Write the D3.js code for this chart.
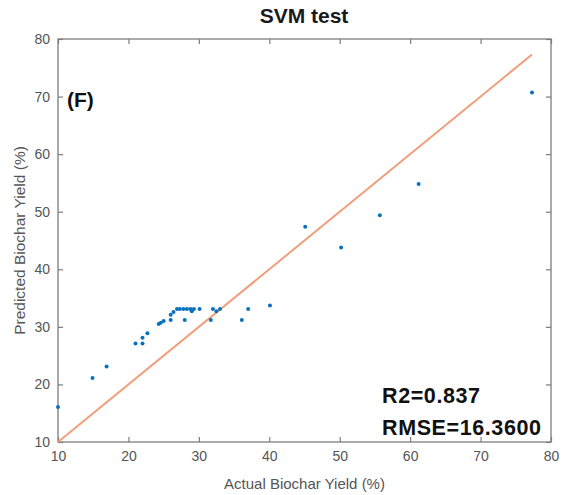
<!DOCTYPE html>
<html>
<head>
<meta charset="utf-8">
<script src="https://cdn.jsdelivr.net/npm/d3@7"></script>
<style>
  body { margin: 0; background: #fff; }
  svg { display: block; font-family: "Liberation Sans", Arial, sans-serif; }
</style>
</head>
<body>
<svg id="chart" width="564" height="495"></svg>
<script>
// actual vs predicted biochar yield (%)
let actual = [10, 14.9, 16.9, 21.0, 22.0, 22.0, 22.7, 24.3, 24.6, 25.0,
  26.0, 26.0, 26.4, 26.9, 27.3, 27.8, 28.0, 28.3, 28.8, 29.0,
  29.3, 30.1, 31.7, 32.0, 32.5, 33.0, 36.1, 37.0, 40.1, 45.1,
  50.2, 55.7, 61.2, 77.3];
let predicted = [16.1, 21.1, 23.1, 27.1, 27.1, 28.1, 28.9, 30.5, 30.7, 31.0,
  31.2, 32.1, 32.6, 33.1, 33.1, 33.1, 31.2, 33.1, 33.1, 32.7,
  33.1, 33.1, 31.2, 33.1, 32.7, 33.1, 31.2, 33.1, 33.7, 47.4,
  43.8, 49.4, 54.8, 70.7];
let ticks = [10, 20, 30, 40, 50, 60, 70, 80];

let leftMargin = 58,
  topMargin = 39,
  rightMargin = 13,
  bottomMargin = 53,
  width = 564,
  height = 495;

let svg = d3.select("#chart");

let xScale = d3.scaleLinear().domain([10, 80]).range([leftMargin, width - rightMargin]);
let yScale = d3.scaleLinear().domain([10, 80]).range([height - bottomMargin, topMargin]);

let axisColor = "#7d7d7d";
let tickLen = 5;

// box
svg.append("rect")
  .attr("x", leftMargin)
  .attr("y", topMargin)
  .attr("width", width - leftMargin - rightMargin)
  .attr("height", height - topMargin - bottomMargin)
  .attr("fill", "none")
  .attr("stroke", axisColor)
  .attr("stroke-width", 1.3);

// axes, ticks pointing inward
let xAxis = d3.axisBottom(xScale).tickValues(ticks).tickSizeInner(-tickLen).tickSizeOuter(0).tickPadding(9);
let yAxis = d3.axisLeft(yScale).tickValues(ticks).tickSizeInner(-tickLen).tickSizeOuter(0).tickPadding(8);

function styleAxis(g) {
  g.select(".domain").remove();
  g.selectAll("line").attr("stroke", axisColor).attr("stroke-width", 1.2);
  g.selectAll("text").attr("fill", "#555").style("font-size", "14px");
}

svg.append("g")
  .attr("transform", `translate(0,${height - bottomMargin})`)
  .call(xAxis)
  .call(styleAxis);

svg.append("g")
  .attr("transform", `translate(${leftMargin},0)`)
  .call(yAxis)
  .call(styleAxis);

// mirrored ticks on top and right
svg.append("g")
  .attr("transform", `translate(0,${topMargin})`)
  .call(d3.axisTop(xScale).tickValues(ticks).tickSizeInner(-tickLen).tickSizeOuter(0).tickFormat(""))
  .call(styleAxis);

svg.append("g")
  .attr("transform", `translate(${width - rightMargin},0)`)
  .call(d3.axisRight(yScale).tickValues(ticks).tickSizeInner(-tickLen).tickSizeOuter(0).tickFormat(""))
  .call(styleAxis);

// y = x reference line
let lineMax = d3.max(actual);
svg.append("line")
  .attr("x1", xScale(10))
  .attr("y1", yScale(10))
  .attr("x2", xScale(lineMax))
  .attr("y2", yScale(lineMax))
  .attr("stroke", "#ef9f7b")
  .attr("stroke-width", 2);

// points
svg.selectAll(".pt")
  .data(actual)
  .enter()
  .append("circle")
  .attr("class", "pt")
  .attr("cx", (d) => xScale(d))
  .attr("cy", (d, i) => yScale(predicted[i]))
  .attr("r", 2)
  .style("fill", "#0a72bd");

// title
svg.append("text")
  .attr("x", 304)
  .attr("y", 23)
  .attr("text-anchor", "middle")
  .text("SVM test")
  .style("fill", "#1a1a1a")
  .style("font-size", "21px")
  .style("font-weight", "bold");

// axis labels
svg.append("text")
  .attr("x", (leftMargin + width - rightMargin) / 2)
  .attr("y", 489)
  .attr("text-anchor", "middle")
  .text("Actual Biochar Yield (%)")
  .style("fill", "#555")
  .style("font-size", "15px");

svg.append("text")
  .attr("transform", "rotate(-90)")
  .attr("x", -(topMargin + height - bottomMargin) / 2)
  .attr("y", 25)
  .attr("text-anchor", "middle")
  .text("Predicted Biochar Yield (%)")
  .style("fill", "#555")
  .style("font-size", "15.5px");

// panel label
svg.append("text")
  .attr("x", 67)
  .attr("y", 107)
  .text("(F)")
  .style("fill", "#111")
  .style("font-size", "21px")
  .style("font-weight", "bold");

// stats
svg.append("text")
  .attr("x", 382)
  .attr("y", 403)
  .text("R2=0.837")
  .style("fill", "#111")
  .style("font-size", "21.5px")
  .style("letter-spacing", "0.6px")
  .style("font-weight", "bold");

svg.append("text")
  .attr("x", 382)
  .attr("y", 435)
  .text("RMSE=16.3600")
  .style("fill", "#111")
  .style("font-size", "21.5px")
  .style("letter-spacing", "0.6px")
  .style("font-weight", "bold");
</script>
</body>
</html>
